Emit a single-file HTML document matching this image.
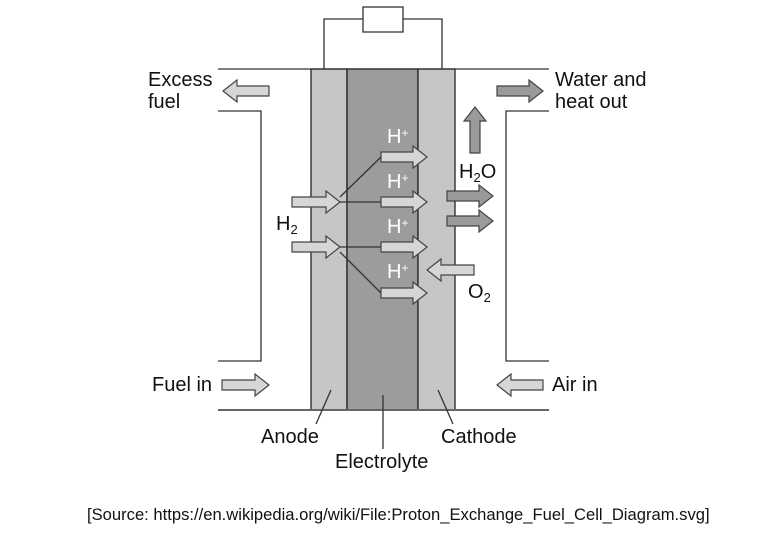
<!DOCTYPE html>
<html><head><meta charset="utf-8"><style>body{margin:0;background:#fff}svg{display:block}text{font-family:"Liberation Sans",sans-serif;font-size:20px;fill:#111}</style></head>
<body>
<svg width="770" height="549" viewBox="0 0 770 549" xmlns="http://www.w3.org/2000/svg">
<g stroke="#222" stroke-width="1.3">
<rect x="311" y="69" width="36" height="341" fill="#c6c6c6"/>
<rect x="347" y="69" width="71" height="341" fill="#9c9c9c"/>
<rect x="418" y="69" width="37" height="341" fill="#c6c6c6"/>
</g>
<g stroke="#333" stroke-width="1.3" fill="none">
<line x1="218" y1="69" x2="549" y2="69"/>
<line x1="218" y1="410" x2="549" y2="410" stroke="#666" stroke-width="2"/>
<polyline points="218,111 261,111 261,361 218,361"/>
<polyline points="549,111 506,111 506,361 549,361"/>
<polyline points="324,69 324,19 363,19"/>
<polyline points="403,19 442,19 442,69"/>
<rect x="363" y="7" width="40" height="25" fill="#fff"/>
<line x1="340" y1="197" x2="381" y2="157"/>
<line x1="340" y1="202" x2="381" y2="202"/>
<line x1="340" y1="247" x2="381" y2="247"/>
<line x1="340" y1="252" x2="381" y2="293"/>
<line x1="331" y1="390" x2="316" y2="424"/>
<line x1="383" y1="395" x2="383" y2="449"/>
<line x1="438" y1="390" x2="453" y2="424"/>
</g>
<g stroke="#444" stroke-width="1.2">
<g fill="#d6d6d6">
<polygon points="292,197 326,197 326,191 340,202 326,213 326,207 292,207"/>
<polygon points="292,242 326,242 326,236 340,247 326,258 326,252 292,252"/>
<polygon points="381,152 413,152 413,146 427,157 413,168 413,162 381,162"/>
<polygon points="381,197 413,197 413,191 427,202 413,213 413,207 381,207"/>
<polygon points="381,242 413,242 413,236 427,247 413,258 413,252 381,252"/>
<polygon points="381,288 413,288 413,282 427,293 413,304 413,298 381,298"/>
<polygon points="222,380 255,380 255,374 269,385 255,396 255,390 222,390"/>
<polygon points="269,86 237,86 237,80 223,91 237,102 237,96 269,96"/>
<polygon points="474,265 441,265 441,259 427,270 441,281 441,275 474,275"/>
<polygon points="543,380 511,380 511,374 497,385 511,396 511,390 543,390"/>
</g>
<g fill="#9a9a9a">
<polygon points="497,86 529,86 529,80 543,91 529,102 529,96 497,96"/>
<polygon points="447,191 479,191 479,185 493,196 479,207 479,201 447,201"/>
<polygon points="447,216 479,216 479,210 493,221 479,232 479,226 447,226"/>
<polygon points="470,153 470,121 464,121 475,107 486,121 480,121 480,153"/>
</g>
</g>
<g>
<text x="148" y="86">Excess</text>
<text x="148" y="108">fuel</text>
<text x="555" y="86">Water and</text>
<text x="555" y="108">heat out</text>
<text x="152" y="391">Fuel in</text>
<text x="552" y="391">Air in</text>
<text x="261" y="443">Anode</text>
<text x="441" y="443">Cathode</text>
<text x="335" y="468">Electrolyte</text>
<text x="276" y="230">H<tspan font-size="13" dy="4">2</tspan></text>
<text x="459" y="178">H<tspan font-size="13" dy="4">2</tspan><tspan dy="-4">O</tspan></text>
<text x="468" y="298">O<tspan font-size="13" dy="4">2</tspan></text>
<text x="387" y="143" style="fill:#fff">H<tspan font-size="12" dy="-6">+</tspan></text>
<text x="387" y="188" style="fill:#fff">H<tspan font-size="12" dy="-6">+</tspan></text>
<text x="387" y="233" style="fill:#fff">H<tspan font-size="12" dy="-6">+</tspan></text>
<text x="387" y="278" style="fill:#fff">H<tspan font-size="12" dy="-6">+</tspan></text>
<text x="87" y="520" style="font-size:16.6px">[Source: https://en.wikipedia.org/wiki/File:Proton_Exchange_Fuel_Cell_Diagram.svg]</text>
</g>
</svg>
</body></html>
